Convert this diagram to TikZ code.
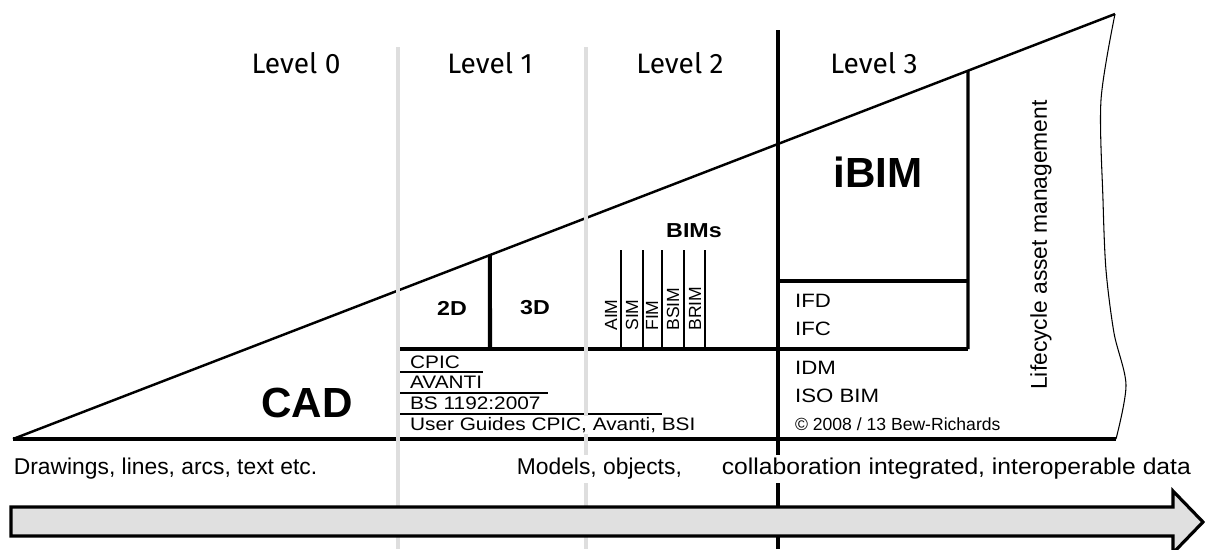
\documentclass[tikz,border=0pt]{standalone}
\usepackage{fontspec}
\setmainfont{Liberation Sans}
\newfontfamily\levelfont{Fira Sans}
\newfontfamily\widefont[FakeStretch=1.15]{Liberation Sans}
\usetikzlibrary{calc}
\tikzset{
  heavy/.style={line width=2.3pt},
  edge/.style={line width=1.4pt},
  boxline/.style={line width=1.8pt},
  hairline/.style={line width=0.6pt},
  levelline/.style={line width=2.4pt, draw=black!13},
  lvl/.style={font=\levelfont\fontsize{16}{19}\selectfont},
  listtext/.style={anchor=west, inner sep=1pt, font=\widefont\fontsize{10.3}{12}\selectfont},
  boxtext/.style={anchor=west, inner sep=1pt, font=\widefont\fontsize{11}{13}\selectfont},
  tag/.style={font=\widefont\bfseries\fontsize{11.5}{13}\selectfont},
  bimlabel/.style={rotate=90, anchor=west, inner sep=0pt, font=\fontsize{10}{12}\selectfont},
  strip/.style={fill=white, inner sep=2pt, font=\fontsize{13}{15}\selectfont}
}
\begin{document}
\begin{tikzpicture}[x=0.02cm, y=-0.02cm]
    \useasboundingbox (0,0) rectangle (1205,549);
    \coordinate (tip) at (13,439);
    \coordinate (top) at (1115,14);
    \coordinate (baseR) at (1116,439);
    \coordinate (h1) at ($(tip)!0.4328!(top)$);
    \coordinate (h3) at ($(tip)!0.8666!(top)$);
    % triangle
    \draw[heavy] (tip) -- (baseR);
    \draw[edge] (tip) -- (top);
    \draw[hairline] plot[smooth] coordinates {(1115,14) (1101,100) (1103,200) (1106,270) (1114,333) (1126,385) (1116,439)};
    % inner boxes
    \draw[heavy] (398,349) -- (968,349);
    \draw[heavy] (h1) -- (490,349);
    \draw[boxline] (h3) -- (968,349);
    \draw[boxline] (778,281) -- (968,281);
    \foreach \x in {621,643,662,684,705}
        \draw[hairline] (\x,250) -- (\x,349);
    \draw[hairline] (398,372) -- (483,372);
    \draw[hairline] (398,393) -- (548,393);
    \draw[hairline] (398,414) -- (662,414);
    % level borders
    \draw[levelline] (398,47) -- (398,549);
    \draw[levelline] (586,47) -- (586,549);
    \draw[heavy] (778,30) -- (778,549);
    % time arrow
    \draw[boxline, fill=black!12, line join=miter] (11,507) -- (1173,507) -- (1173,491) -- (1203,522) -- (1173,553) -- (1173,536) -- (11,536) -- cycle;
    % labels
    \node[lvl] (L0) at (296,63) {Level 0};
    \node[lvl] (L1) at (490,63) {Level 1};
    \node[lvl] (L2) at (680,63) {Level 2};
    \node[lvl] (L3) at (874,63) {Level 3};
    \node[font=\bfseries\fontsize{24}{28}\selectfont] (cad) at (307,403) {CAD};
    \node[font=\bfseries\fontsize{24}{28}\selectfont] (ibim) at (878,172) {iBIM};
    \node[tag] (twoD) at (452,308) {2D};
    \node[tag] (threeD) at (535,308) {3D};
    \node[tag] (bims) at (694,231) {BIMs};
    \foreach \x/\t in {611/AIM, 632/SIM, 652/FIM, 673/BSIM, 695/BRIM}
        \node[bimlabel] (\t) at (\x,331) {\t};
    \node[listtext] (cpic) at (408,362) {CPIC};
    \node[listtext] (avanti) at (408,382) {AVANTI};
    \node[listtext] (bs) at (408,403) {BS 1192:2007};
    \node[listtext, fill=white] (guides) at (408,425) {User Guides CPIC, Avanti, BSI};
    \node[boxtext] (ifd) at (793,301) {IFD};
    \node[boxtext] (ifc) at (793,329) {IFC};
    \node[boxtext] (idm) at (793,368) {IDM};
    \node[boxtext] (iso) at (793,396) {ISO BIM};
    \node[anchor=west, inner sep=1pt, font=\fontsize{10}{12}\selectfont] (copy) at (793,424) {\textcopyright\ 2008 / 13 Bew-Richards};
    \node[rotate=90, font=\fontsize{13}{15}\selectfont] (life) at (1041,245) {Lifecycle asset management};
    \node[strip, anchor=west] (drawings) at (10,469) {Drawings, lines, arcs, text etc.};
    \node[strip, anchor=west] (models) at (513,469) {Models, objects,};
    \node[strip, anchor=west] (collab) at (718,469) {\addfontfeature{FakeStretch=1.08}collaboration integrated, interoperable data};
\end{tikzpicture}
\end{document}
